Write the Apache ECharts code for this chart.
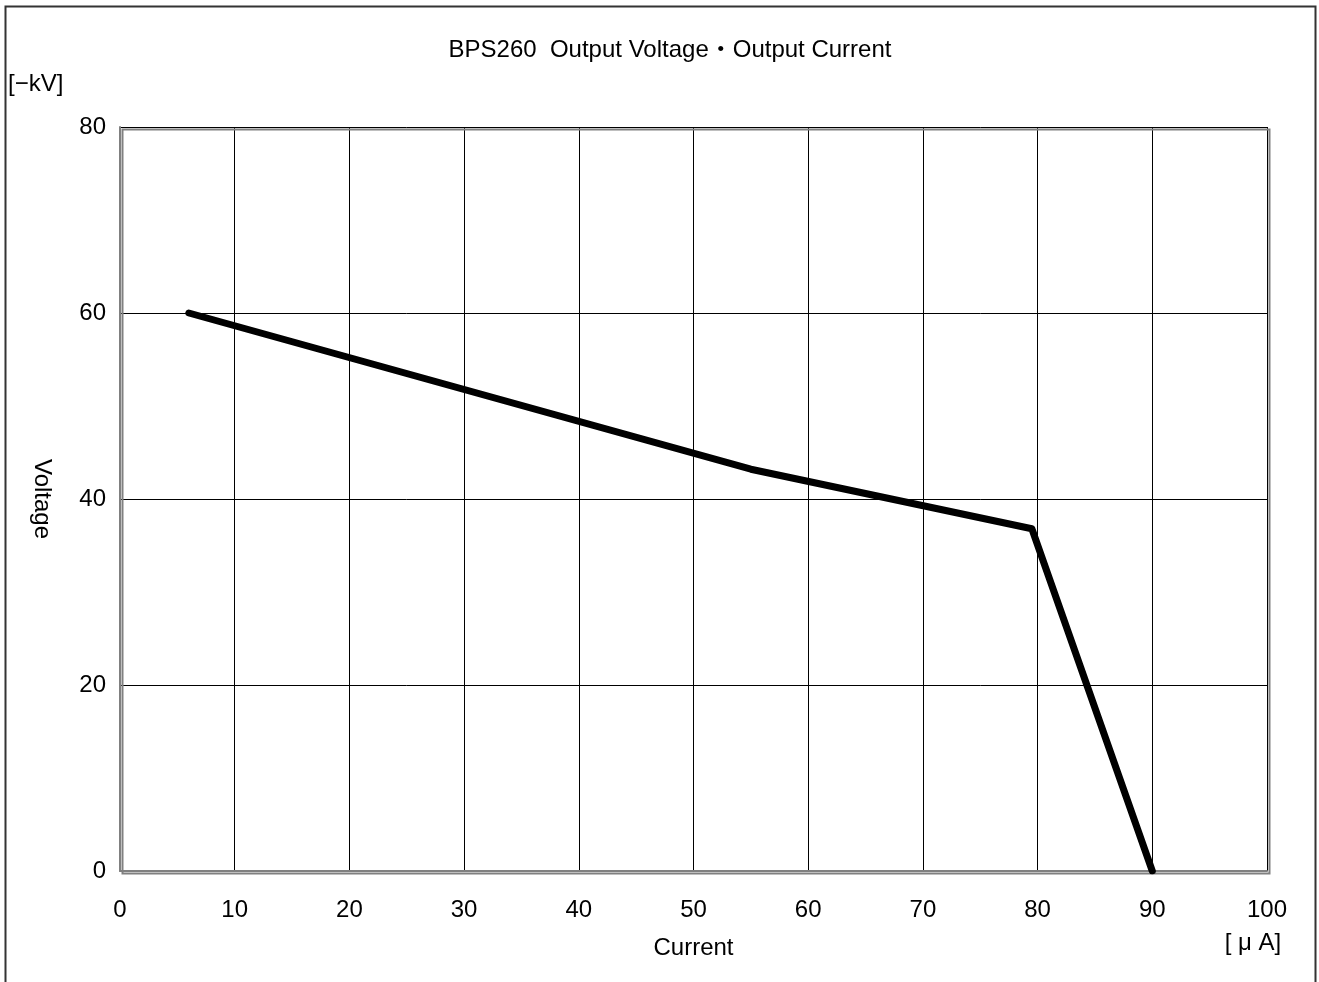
<!DOCTYPE html>
<html><head><meta charset="utf-8">
<script src="https://cdn.jsdelivr.net/npm/echarts@6/dist/echarts.min.js"></script>
<style>html,body{margin:0;padding:0;background:#fff}#c{width:1319px;height:982px}</style>
</head><body><div id="c"></div>
<script>
const currentUA = [6, 55, 79.5, 90];
const voltageKV = [60, 43.2, 36.8, 0];
const xTicks = [0,10,20,30,40,50,60,70,80,90,100];
const yTicks = [0,20,40,60,80];
const FONT = '"Liberation Sans", "Noto Sans CJK JP", sans-serif';
const chart = echarts.init(document.getElementById('c'));
chart.setOption({
  animation: false,
  backgroundColor: '#fff',
  title: {text: 'BPS260  Output Voltage・Output Current', left: 665, top: 33, textAlign: 'center',
    textStyle: {fontFamily: FONT, fontSize: 24, fontWeight: 'normal', color: '#000'}},
  grid: {left: 120, right: 52, top: 127, bottom: 111},
  xAxis: {type: 'value', min: 0, max: 100, interval: 10,
    name: 'Current', nameLocation: 'middle', nameGap: 65,
    nameTextStyle: {fontFamily: FONT, fontSize: 24, color: '#000'},
    axisLine: {lineStyle: {color: '#808080', width: 2}}, axisTick: {show: false},
    axisLabel: {fontFamily: FONT, fontSize: 24, color: '#000', margin: 27},
    splitLine: {lineStyle: {color: '#000', width: 1}}},
  yAxis: {type: 'value', min: 0, max: 80, interval: 20,
    axisLine: {show: true, lineStyle: {color: '#808080', width: 2}}, axisTick: {show: false},
    axisLabel: {fontFamily: FONT, fontSize: 24, color: '#000', margin: 14},
    splitLine: {lineStyle: {color: '#000', width: 1}}},
  graphic: [
    {type: 'rect', left: 3, top: 4, shape: {width: 1310, height: 990}, style: {fill: 'none', stroke: '#333', lineWidth: 2}, silent: true},
    {type: 'rect', left: 120, top: 127, shape: {width: 1147, height: 744}, style: {fill: 'none', stroke: '#808080', lineWidth: 2}, silent: true, z: 10},
    {type: 'text', left: 8, top: 72, style: {text: '[−kV]', font: '24px ' + FONT, fill: '#000'}},
    {type: 'text', x: 1253, y: 943, style: {text: '[ μ A]', font: '24px ' + FONT, fill: '#000', align: 'center', verticalAlign: 'middle'}},
    {type: 'text', x: 42, y: 499, rotation: -Math.PI/2, style: {text: 'Voltage', font: '24px ' + FONT, fill: '#000', align: 'center', verticalAlign: 'middle'}}
  ],
  series: [{type: 'line', data: currentUA.map((x,i)=>[x, voltageKV[i]]), symbol: 'none',
    lineStyle: {color: '#000', width: 7, cap: 'round', join: 'round'}, z: 20}]
});
</script></body></html>
